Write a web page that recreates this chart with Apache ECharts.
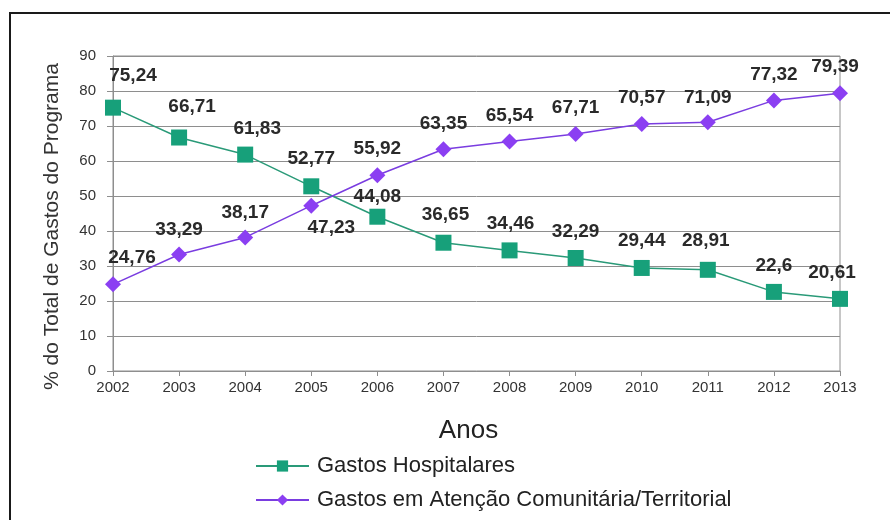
<!DOCTYPE html>
<html>
<head>
<meta charset="utf-8">
<script src="https://cdn.jsdelivr.net/npm/echarts@6/dist/echarts.min.js"></script>
<style>
  html, body { margin: 0; padding: 0; background: #fff; }
  #chart { width: 890px; height: 520px; }
</style>
</head>
<body>
<div id="chart"></div>
<script>
// Anos e percentuais de gastos do programa
const anos = ['2002','2003','2004','2005','2006','2007','2008','2009','2010','2011','2012','2013'];
const gastosHospitalares = [75.24, 66.71, 61.83, 52.77, 44.08, 36.65, 34.46, 32.29, 29.44, 28.91, 22.6, 20.61];
const gastosComunitarios = [24.76, 33.29, 38.17, 47.23, 55.92, 63.35, 65.54, 67.71, 70.57, 71.09, 77.32, 79.39];
const yTicks = { min: 0, max: 90, interval: 10 };

// Deslocamento dos rótulos de valor em relação ao centro de cada marcador (px)
const offsetsHosp = [[20,-32],[13,-31],[12,-26],[0,-28],[0,-20],[2,-28],[1,-27],[0,-26],[0,-27],[-2,-29],[0,-26],[-8,-26]];
const offsetsCom  = [[19,-27],[0,-25],[0,-25],[20,22],[0,-27],[0,-26],[0,-26],[0,-26],[0,-26],[0,-24],[0,-26],[-5,-26]];

const FONT = 'Liberation Sans, Arial, sans-serif';
const fmt = v => String(v).replace('.', ',');

function withLabels(values, offsets) {
  return values.map((v, i) => ({ value: v, label: { offset: offsets[i] } }));
}

const labelStyle = {
  show: true,
  position: 'inside',
  fontFamily: FONT,
  fontWeight: 'bold',
  fontSize: 19,
  color: '#2a2a2a',
  formatter: p => fmt(p.value)
};

const chart = echarts.init(document.getElementById('chart'), null, { renderer: 'canvas' });
chart.setOption({
  backgroundColor: '#fff',
  animation: false,
  textStyle: { fontFamily: FONT },
  graphic: [{
    type: 'rect',
    shape: { x: 10, y: 13, width: 900, height: 600 },
    style: { fill: 'none', stroke: '#1a1a1a', lineWidth: 2 },
    silent: true
  }],
  grid: {
    left: 113, right: 50, top: 56, bottom: 149,
    show: true, borderColor: '#8e8e8e', borderWidth: 1
  },
  legend: {
    orient: 'vertical',
    left: 255,
    top: 455,
    height: 62,
    padding: 0,
    itemGap: 12,
    itemWidth: 53,
    itemHeight: 14,
    textStyle: { fontSize: 22, color: '#222', fontFamily: FONT, padding: [0, 0, 0, 3] },
    data: ['Gastos Hospitalares', 'Gastos em Atenção Comunitária/Territorial']
  },
  xAxis: {
    type: 'category',
    data: anos,
    boundaryGap: false,
    name: 'Anos',
    nameLocation: 'middle',
    nameGap: 47,
    nameTextStyle: { fontSize: 26, color: '#222', padding: [0, 16, 0, 0] },
    axisLine: { lineStyle: { color: '#8e8e8e' } },
    axisTick: { show: true, length: 5, alignWithLabel: true, lineStyle: { color: '#8e8e8e' } },
    axisLabel: { fontSize: 15, color: '#333', margin: 9 },
    splitLine: { show: false }
  },
  yAxis: {
    type: 'value',
    min: yTicks.min, max: yTicks.max, interval: yTicks.interval,
    name: '% do Total de Gastos do Programa',
    nameLocation: 'middle',
    nameGap: 50,
    nameTextStyle: { fontSize: 21, color: '#333', padding: [0, 26, 0, 0] },
    axisLine: { show: true, lineStyle: { color: '#8e8e8e' } },
    axisTick: { show: true, length: 6, lineStyle: { color: '#8e8e8e' } },
    axisLabel: { fontSize: 15, color: '#333', margin: 17 },
    splitLine: { lineStyle: { color: '#8e8e8e', width: 1 } }
  },
  series: [
    {
      name: 'Gastos Hospitalares',
      type: 'line',
      data: withLabels(gastosHospitalares, offsetsHosp),
      symbol: 'rect',
      symbolSize: 16,
      lineStyle: { color: '#2a9a78', width: 1.5 },
      itemStyle: { color: '#17a07a' },
      label: labelStyle,
      z: 3
    },
    {
      name: 'Gastos em Atenção Comunitária/Territorial',
      type: 'line',
      data: withLabels(gastosComunitarios, offsetsCom),
      symbol: 'diamond',
      symbolSize: 16,
      lineStyle: { color: '#7a3de0', width: 1.5 },
      itemStyle: { color: '#8b3ff2' },
      label: labelStyle,
      z: 4
    }
  ]
});
</script>
</body>
</html>
